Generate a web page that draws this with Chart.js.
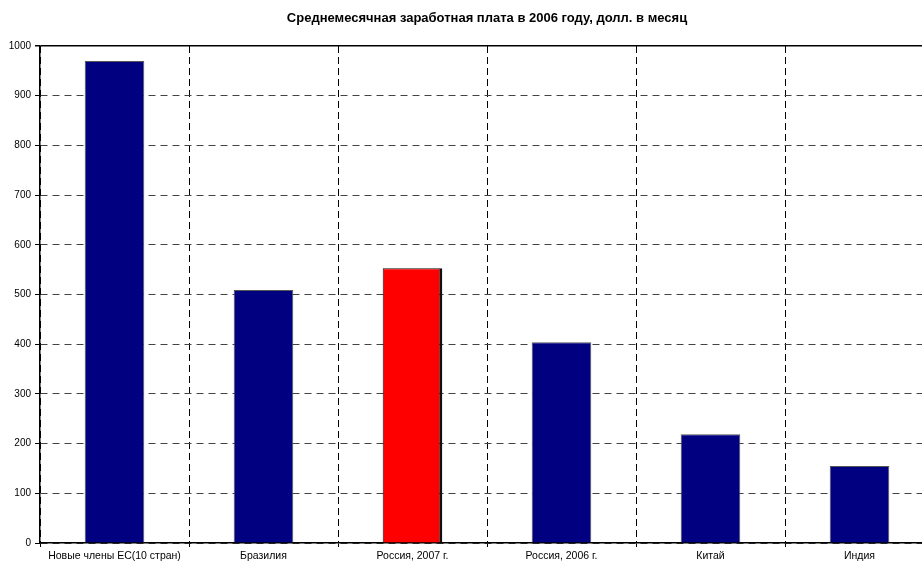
<!DOCTYPE html>
<html lang="ru">
<head>
    <meta charset="utf-8">
    <title>Среднемесячная заработная плата</title>
    <script src="https://cdn.jsdelivr.net/npm/chart.js@4.4.1/dist/chart.umd.min.js"></script>
    <style>
        body {
            margin: 0;
            background: #fff;
            overflow: hidden;
        }
        #wrap {
            position: relative;
            width: 934px;
            height: 562px;
        }
    </style>
</head>
<body>
    <div id="wrap"><canvas id="chart"></canvas></div>
    <script>
        const categories = ['Новые члены ЕС(10 стран)', 'Бразилия', 'Россия, 2007 г.', 'Россия, 2006 г.', 'Китай', 'Индия'];
        const wages = [970, 509, 553, 404, 219, 155];
        const barColors = ['#000080', '#000080', '#ff0000', '#000080', '#000080', '#000080'];
        const yTicks = [0, 100, 200, 300, 400, 500, 600, 700, 800, 900, 1000];

        const family = 'Arial, "Liberation Sans", sans-serif';

        new Chart(document.getElementById('chart'), {
            type: 'bar',
            data: {
                labels: categories,
                datasets: [{
                    data: wages,
                    backgroundColor: barColors,
                    borderColor: barColors.map(c => c === '#ff0000' ? '#111' : '#555'),
                    borderWidth: barColors.map(c => c === '#ff0000'
                        ? { top: 1, left: 1, right: 3, bottom: 0 }
                        : { top: 1, left: 1, right: 1, bottom: 0 }),
                    borderSkipped: false,
                    categoryPercentage: 1,
                    barPercentage: 0.4
                }]
            },
            options: {
                responsive: true,
                maintainAspectRatio: false,
                animation: false,
                layout: { padding: 0 },
                plugins: {
                    legend: { display: false },
                    tooltip: { enabled: false },
                    title: {
                        display: true,
                        fullSize: false,
                        text: 'Среднемесячная заработная плата в 2006 году, долл. в месяц',
                        color: '#000',
                        font: { family: family, size: 13, weight: 'bold' },
                        padding: { top: 11, bottom: 19.4 }
                    }
                },
                scales: {
                    x: {
                        offset: true,
                        ticks: { color: '#000', font: { family: family, size: 10.5 }, padding: 3, maxRotation: 0, autoSkip: false },
                        grid: {
                            offset: true,
                            color: '#000',
                            lineWidth: 1,
                            tickLength: 4,
                            tickColor: '#000'
                        },
                        border: { display: true, color: '#000', width: 1.5, dash: [7, 4] },
                        afterFit: s => { s.height = 19; }
                    },
                    y: {
                        min: 0,
                        max: 1000,
                        afterBuildTicks: s => { s.ticks = yTicks.map(v => ({ value: v })); },
                        ticks: {
                            color: '#000',
                            font: { family: family, size: 10 },
                            padding: 4,
                            callback: v => String(v)
                        },
                        grid: {
                            color: c => (c.tick && c.tick.value === 1000) ? '#000' : '#444',
                            lineWidth: c => (c.tick && c.tick.value === 1000) ? 1.5 : 1,
                            tickLength: 5,
                            tickColor: '#000'
                        },
                        border: {
                            display: true,
                            color: '#000',
                            width: 1.5,
                            dash: c => (c.tick && c.tick.value === 1000) ? [] : [7, 5]
                        },
                        afterFit: s => { s.width = 40; }
                    }
                }
            }
        });
    </script>
</body>
</html>
